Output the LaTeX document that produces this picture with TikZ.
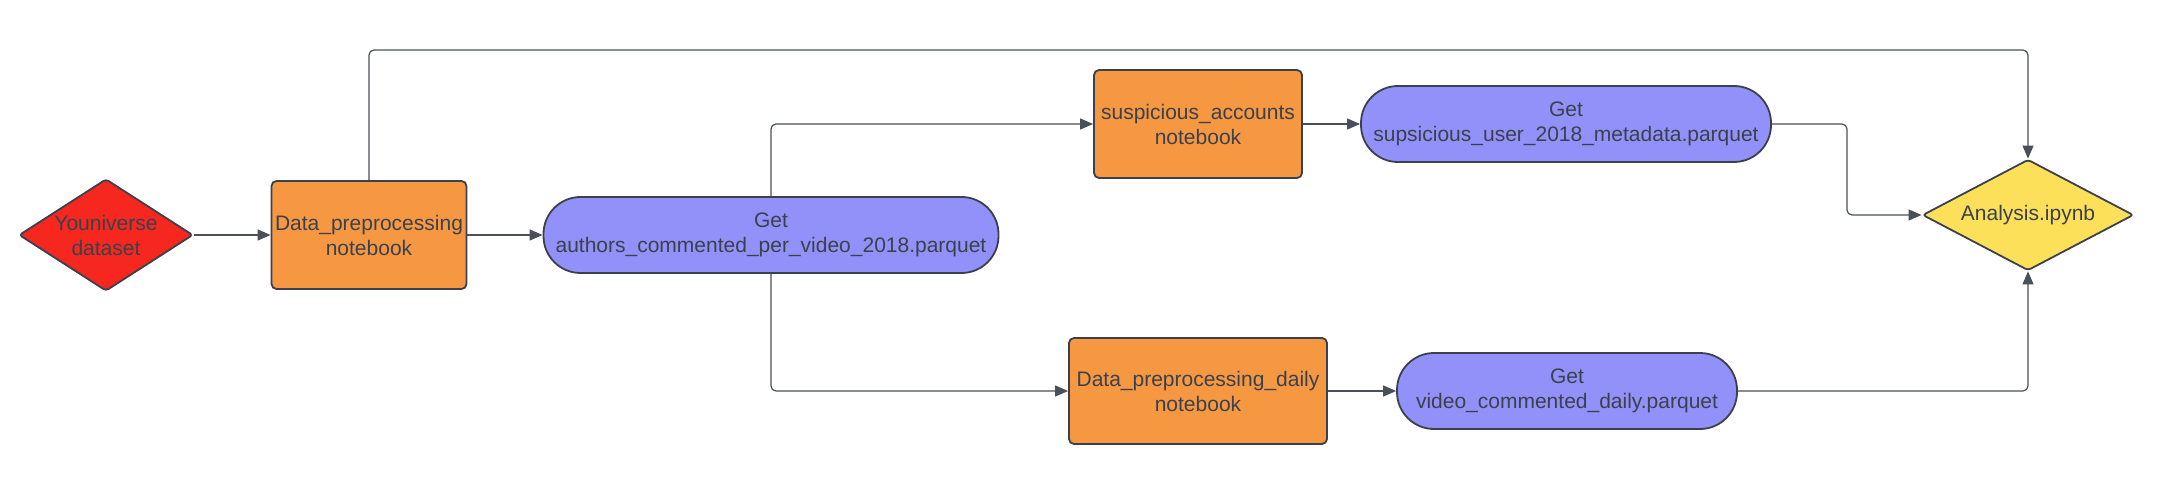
\documentclass[tikz,border=0pt]{standalone}
\usepackage{fontspec}
\setmainfont{Liberation Sans}
\usetikzlibrary{shapes.geometric,arrows.meta}
\definecolor{boxred}{HTML}{F5271F}
\definecolor{boxorange}{HTML}{F69842}
\definecolor{boxpurple}{HTML}{9290F9}
\definecolor{boxyellow}{HTML}{FDE05A}
\definecolor{inkgrey}{HTML}{3B414C}
\definecolor{linegrey}{HTML}{4A5059}
\begin{document}
\begin{tikzpicture}
[x=1pt,y=-1pt,font=\fontsize{21}{25}\selectfont]
\tikzstyle{every node}=[draw=inkgrey,line width=1.8pt,text=inkgrey,align=center,inner sep=0pt]
\tikzstyle{decision}=[diamond,aspect=1.55,rounded corners=3pt]
\tikzstyle{notebook}=[rectangle,fill=boxorange,rounded corners=5pt]
\tikzstyle{parquet}=[rectangle,fill=boxpurple,rounded corners=37pt,minimum height=76pt]
\tikzstyle{flow}=[draw=linegrey,line width=1.2pt,rounded corners=5pt,-{Triangle[length=13pt,width=11pt]}]
\useasboundingbox (0,0) rectangle (2158,497);
\node[decision,fill=boxred,minimum width=174pt,minimum height=112pt] (youniverse) at (106,235) {Youniverse\\dataset};
\node[notebook,minimum width=195pt,minimum height=108pt] (prep) at (369,235) {Data\_preprocessing\\notebook};
\node[parquet,minimum width=455pt] (authors) at (771,235) {Get\\authors\_commented\_per\_video\_2018.parquet};
\node[notebook,minimum width=208pt,minimum height=108pt] (suspicious) at (1198,124) {suspicious\_accounts\\notebook};
\node[parquet,minimum width=410pt] (suspget) at (1566,124) {Get\\supsicious\_user\_2018\_metadata.parquet};
\node[notebook,minimum width=258pt,minimum height=106pt] (daily) at (1198,391) {Data\_preprocessing\_daily\\notebook};
\node[parquet,minimum width=340pt] (dailyget) at (1567,391) {Get\\video\_commented\_daily.parquet};
\node[decision,fill=boxyellow,aspect=1.9,minimum width=211pt,minimum height=111pt] (analysis) at (2028,215) {Analysis.ipynb};
\coordinate (toprun) at (1200,50);
\coordinate (bend) at (1847,170);
% connectors
\draw[flow] (youniverse.east) -- (prep.west);
\draw[flow] (prep.east) -- (authors.west);
\draw[flow] (authors.north) |- (suspicious.west);
\draw[flow] (authors.south) |- (daily.west);
\draw[flow] (suspicious.east) -- (suspget.west);
\draw[flow] (daily.east) -- (dailyget.west);
\draw[flow] (suspget.east) -| (bend) |- (analysis.west);
\draw[flow] (prep.north) |- (toprun) -| (analysis.north);
\draw[flow] (dailyget.east) -| (analysis.south);
\end{tikzpicture}
\end{document}
